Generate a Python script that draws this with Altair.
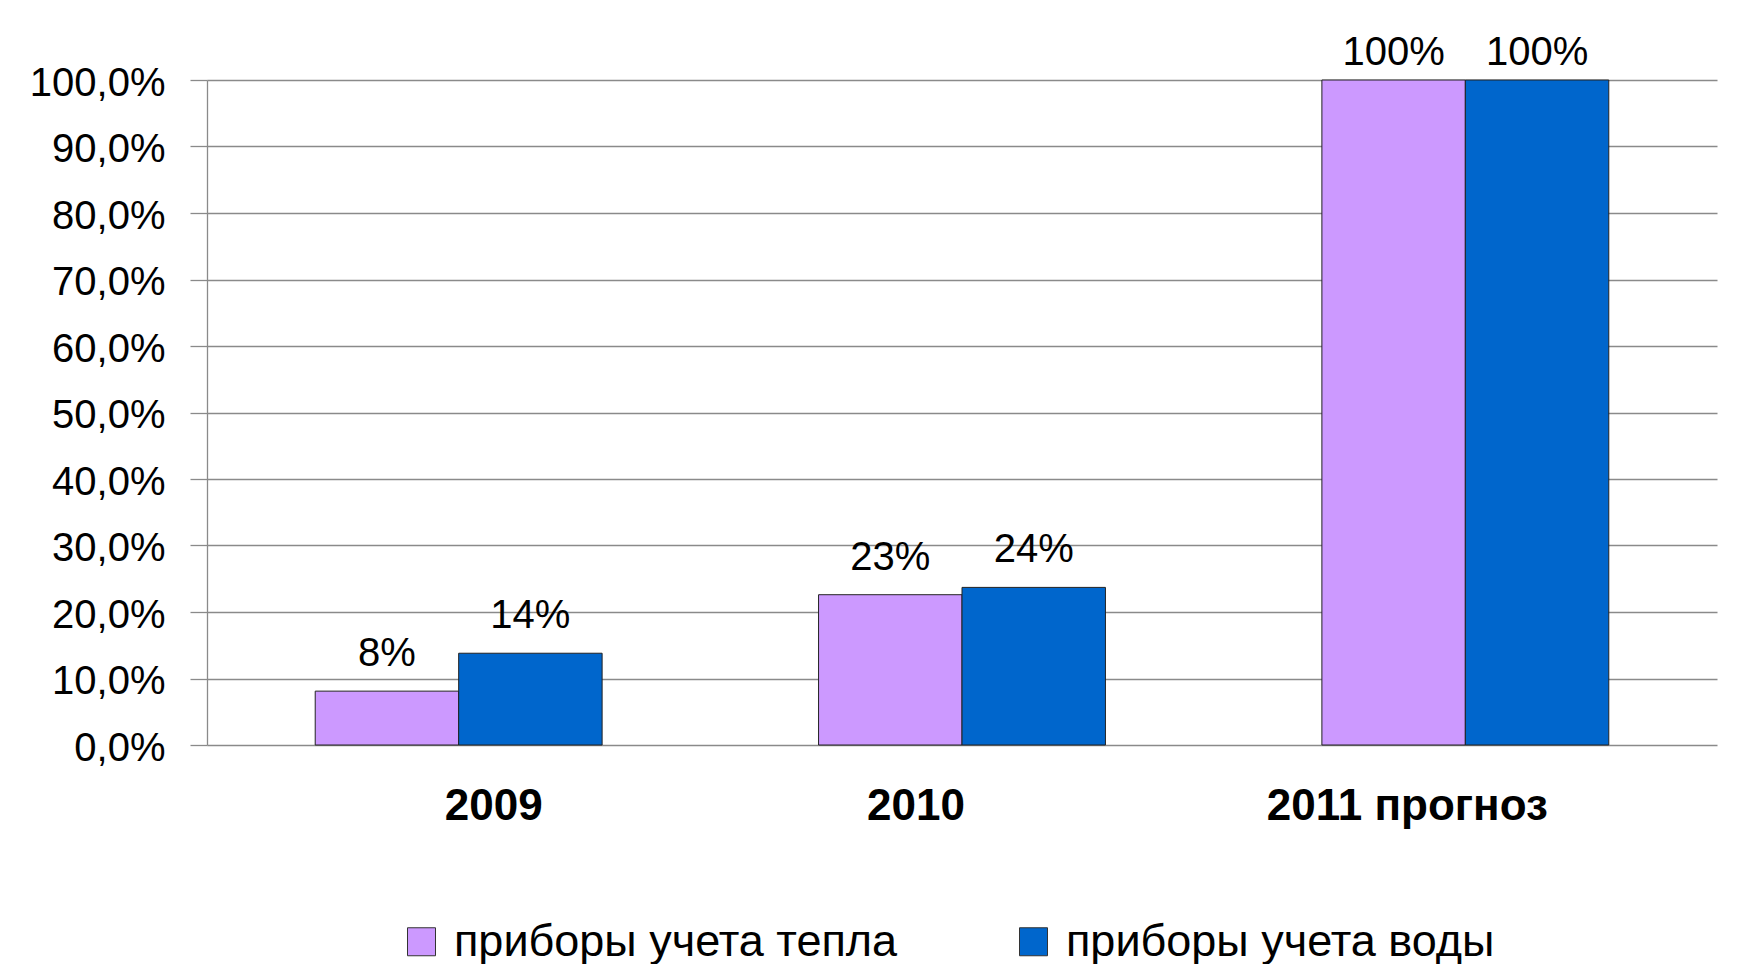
import altair as alt
import pandas as pd

categories = ["2009", "2010", "2011 прогноз"]
series_names = ["приборы учета тепла", "приборы учета воды"]
heat_values = [0.081, 0.226, 1.0]
water_values = [0.138, 0.237, 1.0]
colors = ["#CC99FF", "#0066CC"]
y_ticks = [0.0, 0.1, 0.2, 0.3, 0.4, 0.5, 0.6, 0.7, 0.8, 0.9, 1.0]

rows = []
for i, c in enumerate(categories):
    rows.append({"cat": c, "series": series_names[0], "value": heat_values[i]})
    rows.append({"cat": c, "series": series_names[1], "value": water_values[i]})
df = pd.DataFrame(rows)

FONT = "Liberation Sans, Arial, sans-serif"
GRID = "#8a8a8a"

x_enc = alt.X(
    "cat:N",
    sort=categories,
    scale=alt.Scale(paddingInner=0.43, paddingOuter=0.215),
    axis=alt.Axis(
        title=None, labelAngle=0, labelFont=FONT, labelFontSize=44,
        labelFontWeight="bold", labelColor="black", ticks=False,
        domain=False, labelPadding=39, labelLimit=0,
        labelOffset={"expr": "datum.value == '2009' ? 35 : (datum.value == '2010' ? -46 : -58)"},
    ),
)
y_enc = alt.Y(
    "value:Q",
    scale=alt.Scale(domain=[0, 1], nice=False),
    axis=alt.Axis(
        values=y_ticks, title=None,
        labelExpr="replace(format(datum.value, '.1%'), '.', ',')",
        labelFont=FONT, labelFontSize=40, labelColor="black",
        labelPadding=25, labelOffset=3,
        tickSize=17, tickColor=GRID, tickWidth=1.3,
        gridColor=GRID, gridWidth=1.3, gridOpacity=1,
        domainColor=GRID, domainWidth=1.3,
    ),
)
xoff_enc = alt.XOffset(
    "series:N", sort=series_names,
    scale=alt.Scale(paddingInner=0, paddingOuter=0),
)
color_enc = alt.Color(
    "series:N",
    sort=series_names,
    scale=alt.Scale(domain=series_names, range=colors),
    legend=alt.Legend(
        title=None, orient="none", legendX=192, legendY=839,
        direction="horizontal", columns=2, symbolType="square",
        symbolSize=784, symbolStrokeColor="#333", symbolStrokeWidth=1,
        symbolOpacity=1, labelFont=FONT, labelFontSize=45,
        labelColor="black", labelOffset=10, columnPadding=113,
        labelLimit=0,
    ),
)

base = alt.Chart(df)

bars = base.mark_bar(stroke="#222", strokeWidth=1).encode(
    x=x_enc, y=y_enc, xOffset=xoff_enc, color=color_enc
)

labels_low = base.transform_filter("datum.value < 1").mark_text(
    baseline="alphabetic", dy=-25, font=FONT, fontSize=40, color="black"
).encode(
    x=alt.X("cat:N", sort=categories),
    y=alt.Y("value:Q"),
    xOffset=alt.XOffset("series:N", sort=series_names),
    text=alt.Text("value:Q", format=".0%"),
)

labels_full = base.transform_filter("datum.value >= 1").mark_text(
    baseline="alphabetic", dy=-15, font=FONT, fontSize=40, color="black"
).encode(
    x=alt.X("cat:N", sort=categories),
    y=alt.Y("value:Q"),
    xOffset=alt.XOffset("series:N", sort=series_names),
    text=alt.Text("value:Q", format=".0%"),
)

chart = alt.layer(bars, labels_low, labels_full).properties(
    width=1510,
    height=665,
    padding={"left": 199, "top": 72, "right": 16, "bottom": 228},
    autosize=alt.AutoSizeParams(type="none"),
    background="white",
).configure_view(stroke=None)

chart.save("out.html", embed_options={"renderer": "svg", "actions": False})
